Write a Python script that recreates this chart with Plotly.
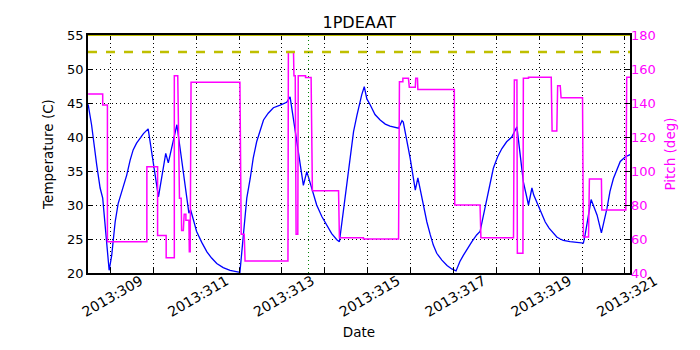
import plotly.graph_objects as go

# day of year 2013 (fractional) and temperature in C
temp_day = [308.48, 308.56, 308.68, 308.76, 308.82, 308.97, 309.03, 309.07, 309.11, 309.18,
            309.22, 309.30, 309.38, 309.46, 309.53, 309.61, 309.69, 309.77, 309.88, 310.12,
            310.29, 310.35, 310.55, 310.83, 310.87, 311.01, 311.13, 311.25, 311.36, 311.48,
            311.63, 311.79, 312.02, 312.10, 312.14, 312.18, 312.26, 312.33, 312.41, 312.49,
            312.57, 312.68, 312.80, 312.96, 313.11, 313.19, 313.35, 313.50, 313.58, 313.66,
            313.81, 313.93, 314.05, 314.16, 314.28, 314.34, 314.43, 314.51, 314.59, 314.67,
            314.75, 314.82, 314.86, 314.92, 314.98, 315.06, 315.17, 315.29, 315.41, 315.52,
            315.72, 315.80, 315.83, 315.99, 316.11, 316.17, 316.22, 316.30, 316.38, 316.46,
            316.53, 316.61, 316.73, 316.85, 316.96, 317.06, 317.15, 317.23, 317.33, 317.43,
            317.54, 317.62, 317.70, 317.78, 317.86, 317.93, 318.03, 318.13, 318.24, 318.36,
            318.48, 318.63, 318.75, 318.83, 318.87, 319.01, 319.14, 319.23, 319.33, 319.41,
            319.49, 319.56, 319.72, 319.88, 320.03, 320.07, 320.15, 320.21, 320.35, 320.45,
            320.58, 320.65, 320.73, 320.81, 320.89, 321.01, 321.12]
temp_val = [44.8, 41.8, 35.9, 32.5, 31.0, 20.4, 22.6, 25.1, 27.5, 30.2,
            31.0, 32.9, 34.4, 36.6, 38.1, 39.1, 39.8, 40.5, 41.2, 31.2,
            37.6, 36.2, 41.8, 28.8, 29.3, 26.1, 24.5, 23.1, 22.2, 21.4,
            20.8, 20.4, 20.1, 26.1, 29.0, 31.0, 33.9, 36.9, 39.3, 41.0,
            42.5, 43.5, 44.3, 44.7, 45.1, 45.9, 38.8, 32.9, 34.9, 33.2,
            30.0, 28.3, 27.1, 25.8, 24.9, 24.6, 29.0, 32.9, 37.1, 40.8,
            43.2, 45.2, 46.2, 47.4, 45.6, 44.7, 43.3, 42.5, 41.9, 41.6,
            41.3, 42.4, 42.2, 36.9, 32.2, 34.0, 32.5, 29.8, 27.5, 25.6,
            24.1, 22.9, 21.9, 21.1, 20.6, 20.3, 21.7, 22.6, 23.7, 24.6,
            25.6, 26.1, 28.5, 31.0, 33.4, 35.4, 37.1, 38.3, 39.3, 40.0,
            41.5, 33.4, 30.0, 32.5, 31.5, 29.5, 27.5, 26.6, 25.8, 25.3,
            25.0, 24.8, 24.6, 24.5, 24.4, 25.6, 29.0, 30.8, 28.5, 25.9,
            29.5, 32.0, 33.9, 35.3, 36.4, 37.1, 37.4]

# pitch in degrees (step changes)
pitch_day = [308.48, 308.82, 308.82, 308.93, 308.93, 309.85, 309.85, 310.10, 310.10,
             310.30, 310.30, 310.49, 310.49, 310.57, 310.61, 310.65, 310.66, 310.70,
             310.72, 310.76, 310.76, 310.83, 310.84, 310.86, 310.88, 312.02, 312.05,
             312.12, 312.14, 313.14, 313.15, 313.27, 313.28, 313.31, 313.33, 313.37,
             313.38, 313.55, 313.55, 313.68, 313.71, 314.32, 314.34, 314.90, 314.90,
             315.72, 315.74, 315.82, 315.82, 315.95, 315.97, 316.11, 316.12, 316.16,
             316.17, 317.02, 317.03, 317.62, 317.64, 318.40, 318.42, 318.48, 318.49,
             318.62, 318.63, 318.75, 318.75, 319.28, 319.30, 319.41, 319.43, 319.49,
             319.51, 320.01, 320.03, 320.15, 320.17, 320.45, 320.46, 321.02, 321.04,
             321.12]
pitch_val = [145.3, 145.3, 138.8, 138.8, 58.4, 58.4, 102.5, 102.5, 62.0,
             62.0, 49.0, 49.0, 156.0, 156.0, 84.0, 84.0, 65.0, 65.0,
             74.5, 74.5, 71.0, 71.0, 52.5, 52.5, 152.2, 152.2, 62.8,
             62.8, 47.0, 47.0, 169.8, 169.8, 156.0, 156.0, 62.8, 62.8,
             156.0, 156.0, 155.0, 155.0, 88.4, 88.4, 60.8, 60.8, 60.0,
             60.0, 152.5, 152.5, 154.5, 154.5, 149.2, 149.2, 154.5, 154.5,
             148.0, 148.0, 80.0, 80.0, 60.8, 60.8, 153.5, 153.5, 51.6,
             51.6, 154.5, 154.5, 155.2, 155.2, 123.5, 123.5, 150.2, 150.2,
             143.1, 143.1, 61.2, 61.2, 95.3, 95.3, 77.0, 77.0, 155.1,
             155.1]

tick_days = list(range(309, 322))
tick_text = ['2013:%d' % d if d % 2 == 1 else '' for d in tick_days]

temp_limit = 52.5
temp_top = 55
marker_day = 313.62

fig = go.Figure()
fig.add_trace(go.Scatter(x=temp_day, y=temp_val, mode='lines',
                         line={'color': '#0000ff', 'width': 1.3}, yaxis='y'))
fig.add_trace(go.Scatter(x=pitch_day, y=pitch_val, mode='lines',
                         line={'color': '#ff00ff', 'width': 1.5}, yaxis='y2'))

fig.add_hline(y=temp_limit, line={'color': '#bfbf00', 'width': 2.5, 'dash': 'dash'})
fig.add_hline(y=temp_top, line={'color': '#bfbf00', 'width': 2})
fig.add_vline(x=marker_day, line={'color': '#008000', 'width': 1, 'dash': '1px,3px'})

grid = dict(showgrid=True, gridcolor='black', griddash='1px,3px', gridwidth=1)

fig.update_layout(
    width=700, height=350,
    margin={'l': 88, 'r': 70, 't': 35, 'b': 77},
    paper_bgcolor='white', plot_bgcolor='white',
    showlegend=False,
    font={'family': 'DejaVu Sans, sans-serif', 'size': 13, 'color': 'black'},
    title={'text': '1PDEAAT', 'x': 0.513, 'xanchor': 'center',
           'y': 0.937, 'yanchor': 'middle', 'font': {'size': 16}},
    xaxis=dict(
        range=[308.477, 321.117], tickvals=tick_days, ticktext=tick_text,
        tickangle=-30, ticks='inside', ticklen=5, tickcolor='black',
        tickfont={'size': 14},
        ticklabelshift=30, ticklabelstandoff=-7,
        showline=True, linecolor='black', linewidth=1.5, mirror='ticks',
        zeroline=False, automargin=False,
        title={'text': 'Date', 'standoff': 9, 'font': {'size': 13.5}},
        **grid,
    ),
    yaxis=dict(
        range=[20, 55], dtick=5, ticks='inside', ticklen=5, tickcolor='black',
        showline=True, linecolor='black', linewidth=1.5, mirror=True,
        zeroline=False, automargin=False,
        title={'text': 'Temperature (C)', 'standoff': 10, 'font': {'size': 13.5}},
        **grid,
    ),
    yaxis2=dict(
        range=[40, 180], dtick=20, overlaying='y', side='right',
        ticks='inside', ticklen=5, tickcolor='black',
        showgrid=False, zeroline=False, automargin=False,
        tickfont={'color': '#ff00ff'},
        title={'text': 'Pitch (deg)', 'font': {'color': '#ff00ff', 'size': 13.5}, 'standoff': 10},
    ),
)

# the page body has a default margin; drop it so the figure sits at 0,0
fig.write_html('out.html', config={'displayModeBar': False},
               post_script="document.body.style.margin='0';")
